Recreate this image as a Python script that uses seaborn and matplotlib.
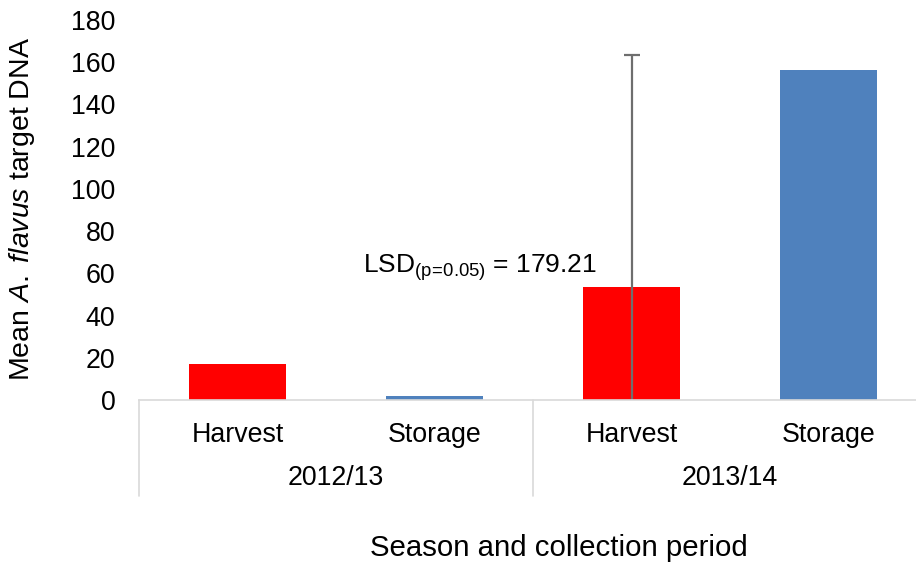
import matplotlib
matplotlib.use("Agg")
import matplotlib.pyplot as plt
import matplotlib.transforms as mtransforms
import pandas as pd
import seaborn as sns

# Data
seasons = ["2012/13", "2012/13", "2013/14", "2013/14"]
periods = ["Harvest", "Storage", "Harvest", "Storage"]
mean_dna = [17.0, 1.9, 53.7, 156.3]
err_index = 2          # bar carrying the error bar
err_value = 109.7
lsd_text = "179.21"
y_ticks = [0, 20, 40, 60, 80, 100, 120, 140, 160, 180]

df = pd.DataFrame({
    "group": [f"{s} {p}" for s, p in zip(seasons, periods)],
    "period": periods,
    "mean": mean_dna,
})

sns.set_theme(style="white")
plt.rcParams["font.family"] = ["Liberation Sans", "DejaVu Sans"]
plt.rcParams["mathtext.fontset"] = "custom"
plt.rcParams["mathtext.rm"] = "Liberation Sans"
plt.rcParams["mathtext.it"] = "Liberation Sans:italic"

fig = plt.figure(figsize=(9.16, 5.65), dpi=100)
ax = fig.add_axes([139 / 916, 165 / 565, 788 / 916, 380 / 565])

palette = {"Harvest": "#FF0000", "Storage": "#4F81BD"}
sns.barplot(data=df, x="group", y="mean", hue="period", palette=palette,
            dodge=False, width=0.49, ax=ax, legend=False, saturation=1,
            linewidth=0)

ax.errorbar(err_index, mean_dna[err_index], yerr=err_value, fmt="none",
            ecolor="#6e6e6e", elinewidth=1.6, capsize=6, capthick=1.6)

ax.set_xlim(-0.5, 3.5)
ax.set_ylim(0, 180)
ax.set_yticks(y_ticks)
ax.set_yticklabels([str(t) for t in y_ticks], fontsize=19.3, color="black")
ax.tick_params(axis="y", length=0, pad=17)

ax.set_xticks(range(len(periods)))
ax.set_xticklabels(periods, fontsize=19.3, color="black")
ax.tick_params(axis="x", length=0, pad=15.5)
ax.set_xlabel("")
ax.set_ylabel("")

for side in ["left", "right", "top"]:
    ax.spines[side].set_visible(False)
ax.spines["bottom"].set_color("#d9d9d9")
ax.spines["bottom"].set_linewidth(1.2)

# Season group separators and labels below the axis
trans = mtransforms.blended_transform_factory(ax.transData, ax.transAxes)
for xs in [-0.5, 1.5, 3.5]:
    ax.plot([xs, xs], [0, -96 / 380], transform=trans, color="#d9d9d9",
            lw=1.2, clip_on=False)
for i, season in enumerate(["2012/13", "2013/14"]):
    ax.text(2 * i + 0.5, -78 / 380, season, transform=trans, ha="center",
            va="center", fontsize=19.3, color="black")

ax.text(0.637, 60.2, r"LSD$_{\mathregular{(p\!=\!0.05)}}$ = " + lsd_text,
        fontsize=19, ha="left", va="baseline", color="black")

fig.text(22 / 916, 1 - 208.5 / 565, r"Mean $\mathit{A.\ flavus}$ target DNA",
         rotation=90, ha="center", va="center", fontsize=20.5, color="black")
fig.text(559 / 916, 1 - 548 / 565, "Season and collection period",
         ha="center", va="center", fontsize=21.2, color="black")

fig.savefig("out.png", dpi=100, facecolor="white")
